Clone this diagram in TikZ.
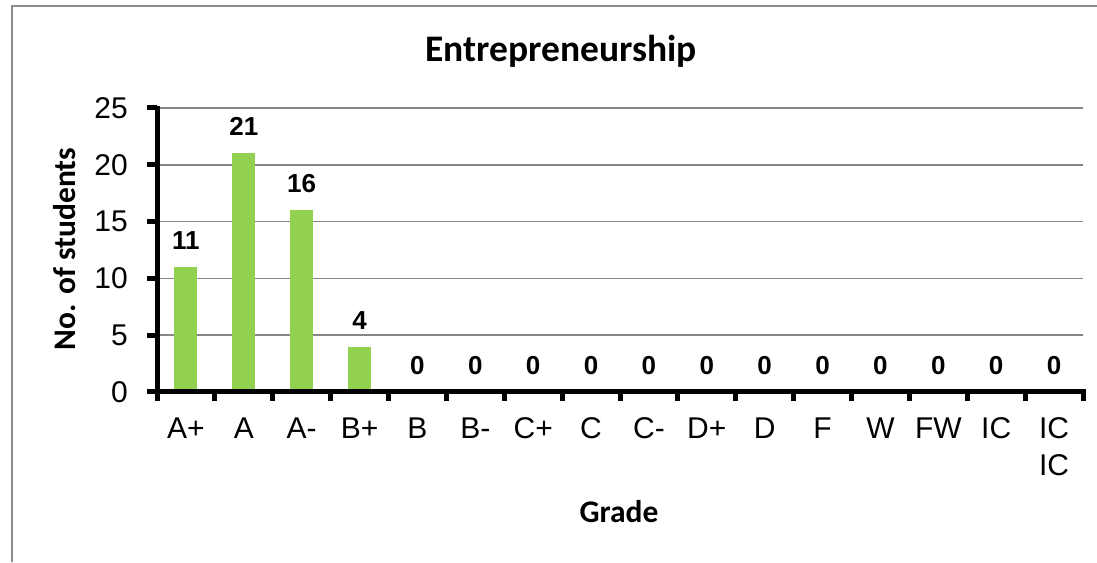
\documentclass[tikz,border=0pt]{standalone}
\usepackage{fontspec}
\setmainfont{Liberation Sans}
\newfontfamily\calibri{Carlito}
\usetikzlibrary{positioning}
\definecolor{bargreen}{HTML}{92D050}
\definecolor{gridgrey}{HTML}{868686}
\definecolor{framegrey}{HTML}{8C8C8C}

\begin{document}
\begin{tikzpicture}[x=1pt, y=1pt]
			\tikzstyle{grid} = [draw=gridgrey, line width=1.5pt]
			\tikzstyle{axis} = [draw=black, line width=5pt]
			\tikzstyle{bar} = [fill=bargreen, draw=none]
			\tikzstyle{ticklab} = [font=\fontsize{30}{37}\selectfont, inner sep=0pt, align=center]
			\tikzstyle{vallab} = [font=\fontsize{26}{30}\selectfont\bfseries, inner sep=0pt]
			\tikzstyle{titlelab} = [font=\fontsize{31.5}{36}\selectfont\calibri\bfseries, inner sep=0pt]
			\useasboundingbox (0,0) rectangle (1097,562);
			\draw[framegrey, line width=2pt] (12,0) -- (12,556) -- (1097,556);

			% gridlines and y ticks
			\foreach \v in {5,10,...,25}
				\draw[grid] (157,170+\v*11.36) -- (1083,170+\v*11.36);
			\foreach \v in {0,5,...,25} {
				\draw[axis] (147,170+\v*11.36) -- (157,170+\v*11.36);
				\node[ticklab, anchor=east] (y\v) at (128,170+\v*11.36) {\v};
			}

			% bars
			\foreach \g/\n [count=\i from 0] in {A+/11, A/21, A-/16, B+/4, B/0, B-/0, C+/0, C/0,
				C-/0, D+/0, D/0, F/0, W/0, FW/0, IC/0, IC\\IC/0} {
				\pgfmathsetmacro{\cx}{157+(\i+0.5)*57.875}
				\ifnum\n>0
					\fill[bar] (\cx-11.5,170) rectangle (\cx+11.5,170+\n*11.36);
				\fi
				\node[vallab, anchor=base] (v\i) at (\cx,170+\n*11.36+17.5) {\n};
				\node[ticklab, anchor=north] (g\i) at (\cx,144.5) {\g};
			}

			% axes
			\draw[axis] (157,170) -- (157,456);
			\draw[axis] (154.5,170) -- (1085.5,170);
			\foreach \k in {0,...,16}
				\draw[axis] (157+\k*57.875,170) -- (157+\k*57.875,161);

			\node[titlelab, font=\fontsize{37.5}{42}\selectfont\calibri\bfseries, anchor=base] (title) at (561,500) {Entrepreneurship};
			\node[titlelab, rotate=90, anchor=base] (ytitle) at (75,313) {No. of students};
			\node[titlelab, anchor=base] (xtitle) at (619,39) {Grade};
\end{tikzpicture}
\end{document}
